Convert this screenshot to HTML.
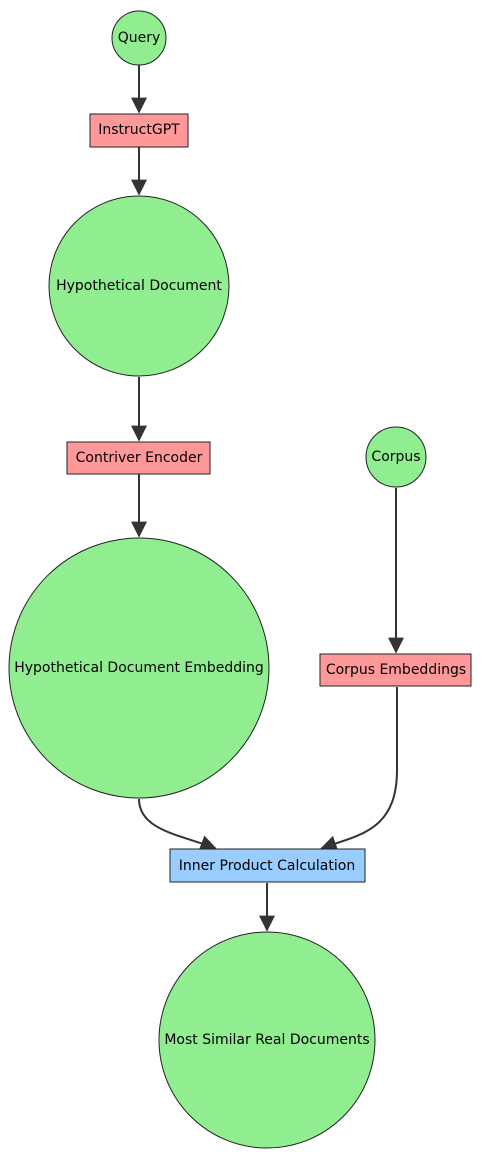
<!DOCTYPE html>
<html><head><style>body{margin:0;background:#fff}svg{display:block}text{font-family:"Trebuchet MS","DejaVu Sans","Liberation Sans",sans-serif;font-size:14px;fill:#000;text-anchor:middle;dominant-baseline:central}</style></head><body>
<svg width="487" height="1176" viewBox="0 0 487 1176" xmlns="http://www.w3.org/2000/svg">
<defs><marker id="a" viewBox="0 0 10 10" refX="9" refY="5" markerWidth="8" markerHeight="8" orient="auto"><path d="M0,0L10,5L0,10z" fill="#333"/></marker></defs>
<g stroke="#333" stroke-width="2" fill="none">
<path d="M139,65V112" marker-end="url(#a)"/>
<path d="M139,147V194" marker-end="url(#a)"/>
<path d="M139,377V440" marker-end="url(#a)"/>
<path d="M139,474V536" marker-end="url(#a)"/>
<path d="M396,488V652" marker-end="url(#a)"/>
<path d="M139,799C139,830 180,835 215,848" marker-end="url(#a)"/>
<path d="M397,687V770C397,830 360,835 322,848" marker-end="url(#a)"/>
<path d="M267,883V930" marker-end="url(#a)"/>
</g>
<g stroke="#222" stroke-width="1">
<circle cx="139" cy="38" r="27" fill="#90ee90"/>
<rect x="90" y="114" width="98" height="33" fill="#ff9999"/>
<circle cx="139" cy="286" r="90" fill="#90ee90"/>
<rect x="67" y="442" width="143" height="32" fill="#ff9999"/>
<circle cx="396" cy="457" r="30" fill="#90ee90"/>
<circle cx="139" cy="668" r="130" fill="#90ee90"/>
<rect x="320" y="654" width="151" height="32" fill="#ff9999"/>
<rect x="170" y="849" width="195" height="33" fill="#99ccff"/>
<circle cx="267" cy="1040" r="108" fill="#90ee90"/>
</g>
<text x="139" y="38">Query</text>
<text x="139" y="130">InstructGPT</text>
<text x="139" y="286">Hypothetical Document</text>
<text x="139" y="458">Contriver Encoder</text>
<text x="396" y="457">Corpus</text>
<text x="139" y="668">Hypothetical Document Embedding</text>
<text x="396" y="670">Corpus Embeddings</text>
<text x="267" y="866">Inner Product Calculation</text>
<text x="267" y="1040">Most Similar Real Documents</text>
</svg></body></html>
